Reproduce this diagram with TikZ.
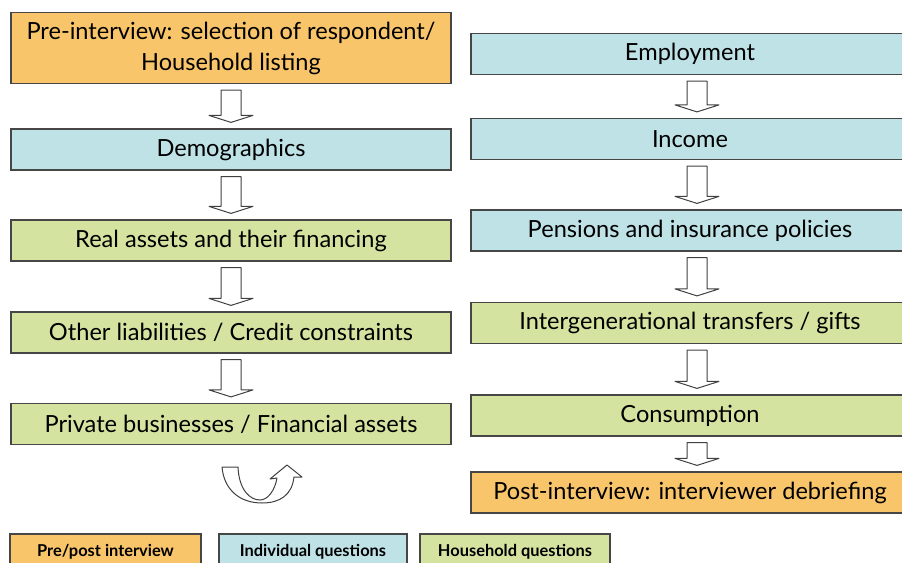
\documentclass[tikz,border=0pt]{standalone}
\usepackage{fontspec}
\setmainfont{Lato}
\usetikzlibrary{calc}

\definecolor{prepost}{RGB}{249,197,106}
\definecolor{indiv}{RGB}{190,226,230}
\definecolor{house}{RGB}{212,228,160}
\definecolor{edge}{RGB}{70,70,70}

\tikzset{
  box/.style={draw=edge, line width=0.6pt, minimum height=20.5pt, inner sep=0pt, align=center, font=\fontsize{11.8}{15.5}\selectfont},
  lbox/.style={box, minimum width=220pt},
  rbox/.style={box, minimum width=219pt},
  pre/.style={fill=prepost},
  ind/.style={fill=indiv},
  hh/.style={fill=house},
  key/.style={draw=edge, line width=0.6pt, minimum height=18pt, inner sep=0pt, font=\fontsize{8.2}{10}\bfseries\selectfont},
  hollow/.style={draw=black!75, fill=white, line width=0.5pt, line join=round},
}

% hollow block arrow between two boxes
\newcommand{\downarr}[3][0pt]{%
  \draw[hollow] let \p1=($(#2.south)+(#1,-3pt)$), \p2=($(#3.north)+(#1,3pt)$) in
    (\x1-5pt,\y1) -- (\x1+5pt,\y1) -- (\x1+5pt,\y2+3.5pt) -- (\x1+11pt,\y2+3.5pt)
    -- (\x1,\y2) -- (\x1-11pt,\y2+3.5pt) -- (\x1-5pt,\y2+3.5pt) -- cycle;}

\begin{document}
\begin{tikzpicture}[x=0.5pt, y=-0.5pt]
\useasboundingbox (0,0) rectangle (902,563);
\clip (0,0) rectangle (902,563);

% left column
\node[lbox, pre, minimum height=35.5pt] (preint) at (231,48) {Pre-interview: selection of respondent/\\Household listing};
\node[lbox, ind] (demo) at (231,149.5) {Demographics};
\node[lbox, hh] (real) at (231,240.5) {Real assets and their financing};
\node[lbox, hh] (liab) at (231,332.5) {Other liabilities / Credit constraints};
\node[lbox, hh] (busi) at (231,424) {Private businesses / Financial assets};

% right column
\node[rbox, ind] (empl) at (690,54) {Employment};
\node[rbox, ind] (inco) at (690,139) {Income};
\node[rbox, ind] (pens) at (690,230.5) {Pensions and insurance policies};
\node[rbox, hh] (tran) at (690,323) {Intergenerational transfers / gifts};
\node[rbox, hh] (cons) at (690,415.5) {Consumption};
\node[rbox, pre] (post) at (690,492.5) {Post-interview: interviewer debriefing};

% arrows
\downarr{preint}{demo}
\downarr{demo}{real}
\downarr{real}{liab}
\downarr{liab}{busi}

\downarr[3.5pt]{empl}{inco}
\downarr[3.5pt]{inco}{pens}
\downarr[3.5pt]{pens}{tran}
\downarr[3.5pt]{tran}{cons}
\downarr[3.5pt]{cons}{post}

% turn to the right column
\draw[hollow] (222,467) -- (238,467) .. controls (239,490) and (250,500) .. (260,500)
  .. controls (268,500) and (275,490) .. (277,478) -- (270,479) -- (287,465) -- (302,477) -- (294,477)
  .. controls (292,495) and (280,503) .. (262,503) .. controls (240,503) and (224,490) .. (222,467) -- cycle;

% legend
\node[key, pre, minimum width=95.5pt] (kpre) at (105.5,552) {Pre/post interview};
\node[key, ind, minimum width=94pt] (kind) at (313,552) {Individual questions};
\node[key, hh, minimum width=95pt] (khh) at (515,552) {Household questions};

\end{tikzpicture}
\end{document}
